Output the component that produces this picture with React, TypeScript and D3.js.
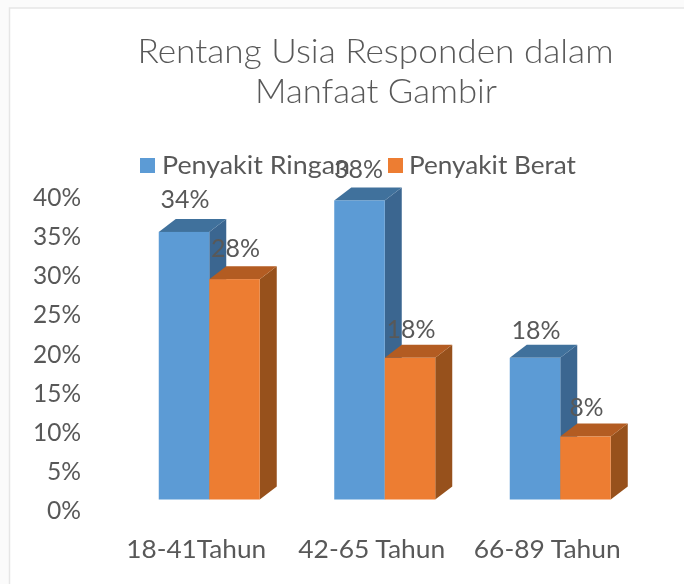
import React from "react";
import * as d3 from "d3";

const categories = ["18-41Tahun", "42-65 Tahun", "66-89 Tahun"];
const ringan = [34, 38, 18];
const berat = [28, 18, 8];
const yTicks = [0, 5, 10, 15, 20, 25, 30, 35, 40];
const titleLines = ["Rentang Usia Responden dalam", "Manfaat Gambir"];
const seriesNames = ["Penyakit Ringan", "Penyakit Berat"];

const FONT = "Lato, 'Open Sans', sans-serif";
const TEXT = "#595959";

const y = d3.scaleLinear().domain([0, 40]).range([499.5, 184.7]);
const tickY = d3.scaleLinear().domain([0, 40]).range([510, 197]);
const x0 = d3.scaleBand<string>().domain(categories).range([121.5, 648]).paddingInner(0).paddingOuter(0);
const DX = 17;
const DY = 13;
const BW = 50.5;

function Bar3D({ x, v, front, side, top }: { x: number; v: number; front: string; side: string; top: string }) {
  const yt = y(v);
  const yb = y(0);
  const r = x + BW;
  return (
    <g>
      <path d={`M${r},${yt}L${r + DX},${yt - DY}L${r + DX},${yb - DY}L${r},${yb}Z`} fill={side} />
      <path d={`M${x},${yt}L${x + DX},${yt - DY}L${r + DX},${yt - DY}L${r},${yt}Z`} fill={top} />
      <rect x={x} y={yt} width={BW} height={yb - yt} fill={front} />
    </g>
  );
}

function Label({ x, y, s, w, anchor = "middle", text, fill = TEXT, weight = 400 }: any) {
  return (
    <text x={x} y={y} fontSize={s} fontFamily={FONT} fontWeight={weight} fill={fill} textAnchor={anchor} textLength={w} lengthAdjust="spacingAndGlyphs">
      {text}
    </text>
  );
}

export default function App() {
  const center = (c: string) => x0(c)! + x0.bandwidth() / 2;
  return (
    <svg width={684} height={584} style={{ position: "absolute", left: 0, top: 0 }}>
      <defs>
        <filter id="soft" x="0" y="0" width="100%" height="100%">
          <feGaussianBlur stdDeviation="0.6" />
        </filter>
      </defs>
      <rect width={684} height={584} fill="#fbfbfb" />
      <rect x={9.5} y={8} width={680} height={580} fill="#ffffff" stroke="#e6e6e6" strokeWidth={1.5} />
      <g filter="url(#soft)">
        <Label x={375.5} y={63} s={33} w={476} text={titleLines[0]} weight={300} />
        <Label x={376} y={103} s={33} w={242} text={titleLines[1]} weight={300} />

        <rect x={140} y={158} width={15} height={15} fill="#5B9BD5" />
        <Label x={162} y={174} s={25} w={188} anchor="start" text={seriesNames[0]} />
        <rect x={388} y={158} width={15} height={15} fill="#ED7D31" />
        <Label x={409} y={174} s={25} w={167} anchor="start" text={seriesNames[1]} />

        {yTicks.map((t) => (
          <Label key={t} x={81} y={tickY(t) + 9} s={25} w={t < 10 ? 34 : 48} anchor="end" text={`${t}%`} />
        ))}

        {categories.map((c, i) => {
          const cx = center(c);
          return (
            <g key={c}>
              <Bar3D x={cx - BW} v={ringan[i]} front="#5B9BD5" side="#3A6690" top="#41719C" />
              <Bar3D x={cx} v={berat[i]} front="#ED7D31" side="#97511B" top="#B35C20" />
            </g>
          );
        })}

        {categories.map((c, i) => {
          const cx = center(c);
          const ly = [[208, 257], [178, 338], [339, 416]][i];
          return (
            <g key={c}>
              <Label x={cx - BW / 2 + (i === 1 ? -1 : 1)} y={ly[0]} s={25} w={49} text={`${ringan[i]}%`} />
              <Label x={cx + BW / 2 + 1} y={ly[1]} s={25} w={i === 2 ? 34 : 49} text={`${berat[i]}%`} />
              <Label x={cx - 13} y={558} s={25} w={i === 0 ? 140 : 147} text={c} />
            </g>
          );
        })}
      </g>
    </svg>
  );
}
